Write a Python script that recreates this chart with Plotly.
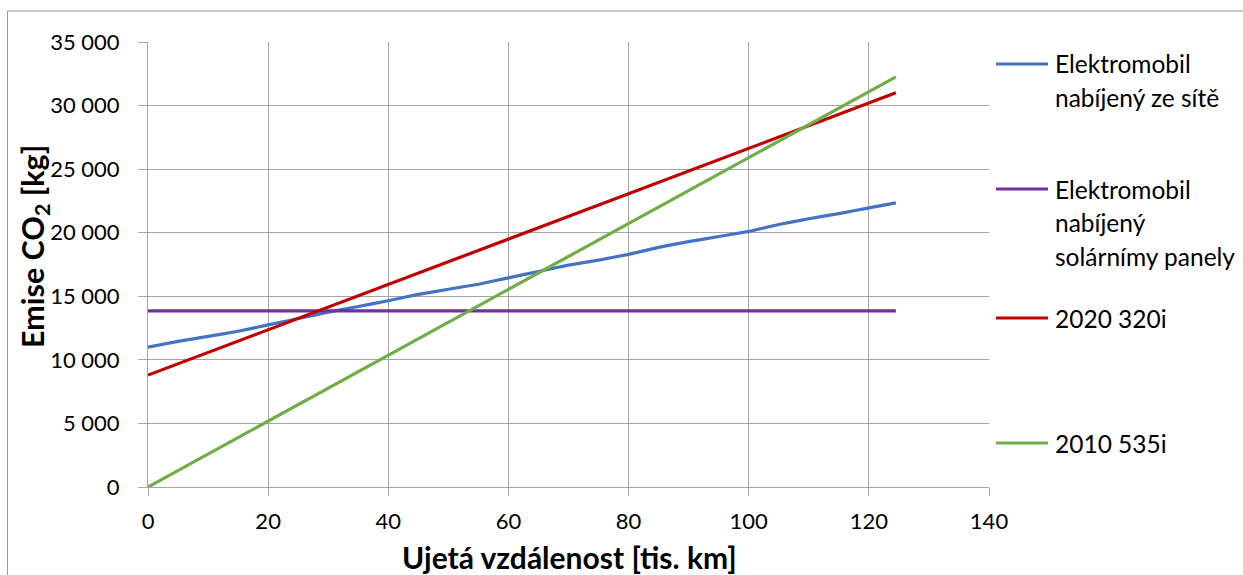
import plotly.graph_objects as go

# ---- data ----
km_grid = [0, 5, 10, 15, 20, 25, 30, 35, 40, 45, 50, 55, 60, 65, 70, 75, 80, 85, 90, 95, 100, 105, 110, 115, 120, 124.5]
co2_grid = [11000, 11450, 11850, 12250, 12750, 13250, 13750, 14200, 14650, 15150, 15550, 15950, 16450,
            16950, 17450, 17850, 18300, 18850, 19300, 19700, 20100, 20650, 21100, 21500, 21950, 22350]

km_solar = [0, 124.5]
co2_solar = [13850, 13850]

km_320i = [0, 124.5]
co2_320i = [8800, 31000]

km_535i = [0, 124.5]
co2_535i = [0, 32250]

series_names = ["Elektromobil nabíjený ze sítě", "Elektromobil nabíjený solárnímy panely", "2020 320i", "2010 535i"]
legend_lines = [["Elektromobil", "nabíjený ze sítě"],
                ["Elektromobil", "nabíjený", "solárnímy panely"],
                ["2020 320i"],
                ["2010 535i"]]
colors = ["#4472C4", "#7030A0", "#C00000", "#70AD47"]

x_ticks = [0, 20, 40, 60, 80, 100, 120, 140]
y_ticks = [0, 5000, 10000, 15000, 20000, 25000, 30000, 35000]

x_title = "<b>Ujetá vzdálenost [tis. km]</b>"
y_title = "<b>Emise CO<sub>2</sub> [kg]</b>"

FONT = "Lato"
GRID = "#a6a6a6"

fig = go.Figure()
xs = [km_grid, km_solar, km_320i, km_535i]
ys = [co2_grid, co2_solar, co2_320i, co2_535i]
for name, x, y, c in zip(series_names, xs, ys, colors):
    fig.add_trace(go.Scatter(x=x, y=y, mode="lines", name=name,
                             line=dict(color=c, width=3.2, shape="spline", smoothing=0.3),
                             showlegend=False))

# plot area geometry in pixels
L, R, T, B = 148, 989, 42, 487
W, H = 1243, 575
def px_x(p):
    return (p - L) / (R - L)
def px_y(p):
    return (B - p) / (B - T)

shapes = []
annotations = []
# outer chart border
shapes.append(dict(type="rect", xref="paper", yref="paper",
                   x0=px_x(7.5), x1=px_x(1300), y0=px_y(700), y1=px_y(11),
                   line=dict(color="#9a9a9a", width=1), fillcolor="rgba(0,0,0,0)", layer="below"))

legend_y = [64, 189, 318, 443]
line_gap = 33.5
for lines, c, ly in zip(legend_lines, colors, legend_y):
    shapes.append(dict(type="line", xref="paper", yref="paper",
                       x0=px_x(996), x1=px_x(1048), y0=px_y(ly), y1=px_y(ly),
                       line=dict(color=c, width=3)))
    for i, t in enumerate(lines):
        annotations.append(dict(xref="paper", yref="paper", x=px_x(1053), y=px_y(ly + i * line_gap),
                                xanchor="left", yanchor="middle", text=t, showarrow=False,
                                font=dict(family=FONT, size=24.5, color="#000000")))

# axis titles (positioned as in the reference)
annotations.append(dict(xref="paper", yref="paper", x=px_x(569), y=px_y(557),
                        xanchor="center", yanchor="middle", text=x_title, showarrow=False,
                        font=dict(family=FONT, size=30, color="#000000")))
annotations.append(dict(xref="paper", yref="paper", x=px_x(34), y=px_y(247),
                        xanchor="center", yanchor="middle", text=y_title, showarrow=False,
                        textangle=-90, font=dict(family=FONT, size=30.5, color="#000000")))

fig.update_layout(
    width=W, height=H,
    margin=dict(l=L, r=W - R, t=T, b=H - B, pad=0),
    paper_bgcolor="white", plot_bgcolor="white",
    separators=", ",
    font=dict(family=FONT, size=22, color="#000000"),
    shapes=shapes, annotations=annotations,
    showlegend=False,
)
fig.update_xaxes(range=[0, 140], tickvals=x_ticks, showgrid=True, gridcolor=GRID, gridwidth=1,
                 showline=True, linecolor=GRID, linewidth=1, ticks="outside", ticklen=8,
                 tickcolor=GRID, zeroline=False, tickfont=dict(family=FONT, size=22),
                 ticklabelstandoff=7)
fig.update_yaxes(range=[0, 35000], tickvals=y_ticks, tickformat=",d", showgrid=True, gridcolor=GRID, gridwidth=1,
                 showline=True, linecolor=GRID, linewidth=1, ticks="outside", ticklen=9,
                 tickcolor=GRID, zeroline=False, tickfont=dict(family=FONT, size=22), ticklabelstandoff=14)

fig.write_html("out.html")
